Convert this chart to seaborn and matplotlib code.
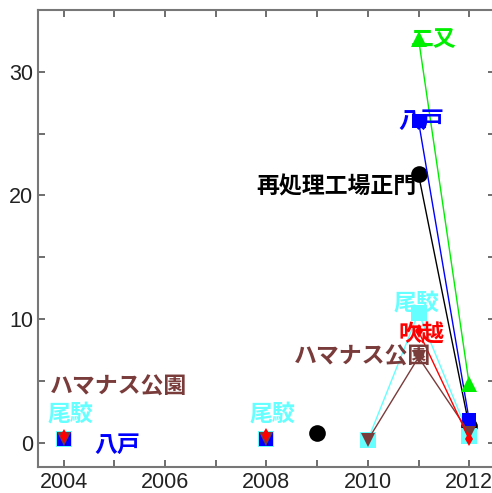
import numpy as np
import pandas as pd
import matplotlib
matplotlib.use("Agg")
import matplotlib.pyplot as plt
from matplotlib.ticker import MultipleLocator
import seaborn as sns

nan = np.nan

# Survey years and measured values per monitoring site (NaN = not measured)
years = [2004, 2005, 2006, 2007, 2008, 2009, 2010, 2011, 2012]
obuchi = [0.3, nan, nan, nan, 0.3, nan, 0.2, 10.5, 0.5]        # 尾駮
hachinohe = [0.3, nan, nan, nan, 0.3, nan, nan, 26.0, 1.8]     # 八戸
fukkoshi = [0.5, nan, nan, nan, 0.6, nan, nan, 9.0, 0.3]       # 吹越
hamanasu = [0.3, nan, nan, nan, 0.3, nan, 0.2, 6.9, 0.8]       # ハマナス公園
gate = [nan, nan, nan, nan, nan, 0.8, nan, 21.7, 1.3]          # 再処理工場正門
futamata = [nan, nan, nan, nan, nan, nan, nan, 32.7, 4.7]      # 二又

series = [
    ("再処理工場正門", gate, "#000000", "o", 12),
    ("尾駮", obuchi, "#66ffff", "s", 12),
    ("八戸", hachinohe, "#0000ff", "s", 10),
    ("ハマナス公園", hamanasu, "#7a3b3b", "v", 10),
    ("吹越", fukkoshi, "#ff0000", "d", 7),
    ("二又", futamata, "#00ee00", "^", 11),
]

# Text annotations: (label, x, y, colour, horizontal alignment)
labels = [
    ("二又", 2010.85, 32.6, "#00ee00", "left"),
    ("八戸", 2011.05, 26.0, "#0000ff", "center"),
    ("再処理工場正門", 2010.95, 20.7, "#000000", "right"),
    ("尾駮", 2010.95, 11.3, "#66ffff", "center"),
    ("吹越", 2011.05, 8.7, "#ff0000", "center"),
    ("ハマナス公園", 2011.25, 6.9, "#7a3b3b", "right"),
    ("ハマナス公園", 2003.72, 4.5, "#7a3b3b", "left"),
    ("尾駮", 2004.14, 2.3, "#66ffff", "center"),
    ("八戸", 2005.05, -0.2, "#0000ff", "center"),
    ("尾駮", 2008.12, 2.3, "#66ffff", "center"),
]

sns.set_style("ticks")
plt.rcParams["font.family"] = ["Liberation Sans", "DejaVu Sans"]

fig = plt.figure(figsize=(4.92, 4.93), dpi=100)
ax = fig.add_axes([0.0778, 0.0523, 0.9274, 0.927])

for name, vals, color, marker, ms in series:
    df = pd.DataFrame({"year": years, "value": vals})
    # split into runs of consecutive valid values so gaps break the line
    valid = df["value"].notna()
    run_id = (~valid).cumsum()
    for _, seg in df[valid].groupby(run_id[valid]):
        sns.lineplot(data=seg, x="year", y="value", ax=ax, color=color,
                     linewidth=1.0, marker=marker, markersize=ms,
                     markeredgewidth=0, markeredgecolor=color,
                     estimator=None, sort=False, legend=False)

for text, x, y, color, ha in labels:
    ax.text(x, y, text, color=color, ha=ha, va="center", fontsize=16.5,
            fontweight="bold", family=["Noto Sans CJK JP", "DejaVu Sans"],
            zorder=10)

ax.set_xlim(2003.5, 2012.5)
ax.set_ylim(-2, 35)
ax.xaxis.set_major_locator(MultipleLocator(2))
ax.xaxis.set_minor_locator(MultipleLocator(1))
ax.yaxis.set_major_locator(MultipleLocator(10))
ax.yaxis.set_minor_locator(MultipleLocator(5))
ax.tick_params(which="both", direction="in", top=True, right=True,
               color="#555555", width=1.2, labelsize=15.5, labelcolor="#222222")
ax.tick_params(which="major", length=5)
ax.tick_params(which="minor", length=5)
ax.set_xlabel("")
ax.set_ylabel("")
for sp in ax.spines.values():
    sp.set_color("#777777")
    sp.set_linewidth(1.5)

fig.savefig("out.png", dpi=100)
